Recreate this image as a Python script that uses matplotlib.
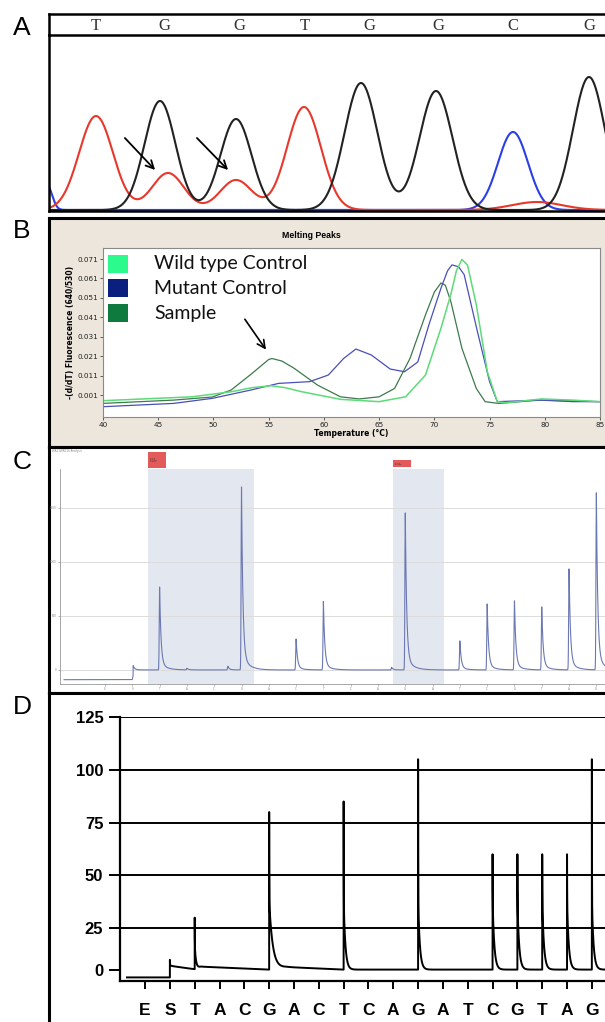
import numpy as np
import matplotlib
matplotlib.use('Agg')
import matplotlib.pyplot as plt
from matplotlib.patches import Rectangle

W, H = 605, 1022

# ---------------- A: Sanger trace ----------------
a_bases = ['T', 'G', 'G', 'T', 'G', 'G', 'C', 'G']
a_base_x = [96, 164, 239, 305, 369, 438, 513, 589]
a_black_x = [160, 236, 361, 436, 589]
a_black_h = [109, 91, 127, 119, 133]
a_black_w = [15.5, 15.5, 16.5, 16.5, 16]
a_red_x = [96, 168, 236, 304, 537]
a_red_h = [94, 37, 30, 103, 8]
a_red_w = [17, 16, 16, 17, 25]
a_blue_x = [47, 513]
a_blue_h = [25, 78]
a_blue_w = [5, 15]

# ---------------- B: melting peaks ----------------
b_wt_t = [40, 48.1, 51.6, 53.5, 55.2, 56.5, 58.0, 61.5, 65.0, 67.4, 69.2, 70.6, 71.5, 72.0,
          72.5, 73.0, 73.8, 74.8, 75.7, 76.5, 79.7, 82.5, 85]
b_wt_v = [-0.0019, 0.0001, 0.0027, 0.0048, 0.0058, 0.0048, 0.0027, -0.0012, -0.0024, 0.0001,
          0.0113, 0.0354, 0.0530, 0.0650, 0.0708, 0.0680, 0.0475, 0.0130, -0.0024, -0.0030,
          -0.0010, -0.0016, -0.0024]
b_mut_t = [40, 46.4, 49.9, 53.4, 55.9, 58.7, 60.4, 61.8, 62.9, 64.3, 66.0, 67.3, 68.5, 69.5,
           70.6, 71.2, 71.6, 72.2, 72.7, 73.9, 75.0, 75.7, 79.6, 82.5, 85]
b_mut_v = [-0.0050, -0.0033, -0.0007, 0.0036, 0.0070, 0.0079, 0.0113, 0.0199, 0.0247, 0.0216,
           0.0144, 0.0130, 0.0180, 0.0370, 0.0560, 0.0650, 0.0680, 0.0670, 0.0630, 0.0337,
           0.0079, -0.0024, -0.0016, -0.0024, -0.0024]
b_smp_t = [40, 46.4, 49.9, 51.6, 53.4, 55.0, 55.3, 56.2, 57.3, 59.4, 61.5, 63.2, 65.0, 66.4,
           67.8, 69.2, 70.0, 70.6, 71.0, 71.5, 72.5, 73.8, 74.6, 75.8, 79.6, 85]
b_smp_v = [-0.0033, -0.0016, 0.0000, 0.0036, 0.0117, 0.0193, 0.0198, 0.0185, 0.0148, 0.0062,
           0.0001, -0.0010, 0.0001, 0.0044, 0.0199, 0.0423, 0.0540, 0.0587, 0.0575, 0.0490,
           0.0250, 0.0044, -0.0024, -0.0033, -0.0016, -0.0024]
b_legend = ['Wild type Control', 'Mutant Control', 'Sample']
b_yticks = [0.001, 0.011, 0.021, 0.031, 0.041, 0.051, 0.061, 0.071]
b_xticks = [40, 45, 50, 55, 60, 65, 70, 75, 80, 85]

# ---------------- C: pyrosequencing (software view) ----------------
c_disp = list('ESTACGACTCAGATCGTAG')
c_peak_pos = [1.03, 2, 3, 4.5, 5, 7, 8, 10.5, 11, 13, 14, 15, 16, 17, 18]
c_peak_h = [40, 768, 15, 35, 1694, 287, 635, 25, 1454, 269, 611, 639, 583, 935, 1639]
c_pre_level = -90
c_spans = [(1.58, 5.46), (10.55, 12.42)]
c_box_text = ['A: 1%\nC: 1%\nG: 45 %\nT: 53%', 'A: 1%\nG: 99%']
c_yticks = [0, 500, 1000, 1500]

# ---------------- D: pyrogram ----------------
d_disp = list('ESTACGACTCAGATCGTAG')
d_peak_pos = [1, 2, 5, 8, 11, 14, 15, 16, 17, 18]
d_peak_h = [10, 30, 80, 85, 105, 60, 60, 60, 60, 105]
d_shoulder = [7.5, 17, 38, 38, 38, 38, 38, 38, 38, 38]
d_tau = [0.05, 0.05, 0.14, 0.07, 0.07, 0.07, 0.07, 0.07, 0.07, 0.07]
d_base_x = [-0.73, 0.999, 1.0, 1.98, 2.0, 2.25, 5.0, 5.0, 5.7, 8.0, 18.7]
d_base_y = [1.7, 1.7, 7.2, 5.6, 5.6, 6.8, 5.4, 5.4, 6.6, 5.4, 5.4]
d_yticks = [0, 25, 50, 75, 100, 125]


def box(fig, x0, y0, x1, y1):
    return fig.add_axes([x0 / W, 1 - y1 / H, (x1 - x0) / W, (y1 - y0) / H])


def fx(x):
    return x / W


def fy(y):
    return 1 - y / H


fig = plt.figure(figsize=(W / 100, H / 100), dpi=100)
fig.patch.set_facecolor('white')

# panel letters
for lab, y in zip('ABCD', [28, 231, 462, 707]):
    fig.text(fx(22), fy(y), lab, fontsize=19, family='Liberation Sans', ha='center', va='center')

# ---- A ----
axA = box(fig, 49, 35, 608, 211)
xs = np.linspace(40, 610, 1500)


def trace(cx, hh, ww):
    y = np.zeros_like(xs)
    for c, h, w in zip(cx, hh, ww):
        y += h * np.exp(-(xs - c) ** 2 / (2 * w ** 2))
    return y


axA.plot(xs, trace(a_blue_x, a_blue_h, a_blue_w), color='#2b3fe6', lw=1.5)
axA.plot(xs, trace(a_red_x, a_red_h, a_red_w), color='#e8382b', lw=1.5)
axA.plot(xs, trace(a_black_x, a_black_h, a_black_w), color='#222222', lw=1.5)
axA.set_xlim(49, 608)
axA.set_ylim(-1, 175)
axA.set_xticks([])
axA.set_yticks([])
axA.spines['top'].set_visible(False)
axA.spines['right'].set_visible(False)
axA.spines['left'].set_linewidth(1.8)
axA.spines['bottom'].set_linewidth(1.8)
for (x0, y0), (x1, y1) in [((123, 74), (157, 38)), ((195, 74), (230, 38))]:
    axA.annotate('', xy=(x1, y1), xytext=(x0, y0),
                 arrowprops=dict(arrowstyle='->', lw=1.3, color='black', mutation_scale=14))

band = box(fig, 49, 14, 608, 35)
band.patch.set_alpha(0)
band.set_xlim(49, 608)
band.set_ylim(0, 1)
band.set_xticks([])
band.set_yticks([])
for s in ['top', 'left', 'bottom']:
    band.spines[s].set_linewidth(1.8)
band.spines['right'].set_visible(False)
for b, x in zip(a_bases, a_base_x):
    band.text(x, 0.45, b, ha='center', va='center', fontsize=12, color='#333333',
              family='Liberation Serif')

# ---- B ----
frB = box(fig, 49, 218, 608, 447)
frB.set_facecolor('#ece6dc')
frB.set_xticks([])
frB.set_yticks([])
for s in frB.spines.values():
    s.set_linewidth(2.2)
fig.text(fx(311), fy(236), 'Melting Peaks', fontsize=6.3, fontweight='bold', ha='center',
         va='center', family='Liberation Sans')

axB = box(fig, 103, 248, 600, 417)
axB.plot(b_smp_t, b_smp_v, color='#3d7a4c', lw=0.9)
axB.plot(b_mut_t, b_mut_v, color='#4a4fb8', lw=0.9)
axB.plot(b_wt_t, b_wt_v, color='#5cdb78', lw=1.1)
axB.set_xlim(40, 85)
axB.set_ylim(-0.0103, 0.0767)
axB.set_xticks(b_xticks)
axB.set_yticks(b_yticks)
axB.set_yticklabels([f'{v:.3f}' for v in b_yticks])
axB.tick_params(labelsize=5.2, length=2, width=0.5, pad=1.5, colors='#222222')
for s in axB.spines.values():
    s.set_color('#8a8a8a')
    s.set_linewidth(0.8)
axB.set_xlabel('Temperature (°C)', fontsize=5.5, fontweight='bold', labelpad=1)
axB.set_ylabel('-(d/dT) Fluorescence (640/530)', fontsize=5.5, fontweight='bold', labelpad=2)
axB.annotate('', xy=(54.9, 0.0232), xytext=(52.7, 0.0412),
             arrowprops=dict(arrowstyle='->', lw=1.2, color='black', mutation_scale=14))
leg_cols = ['#2dfa8c', '#0b1f7e', '#0f7a3d']
for i, (lab, col) in enumerate(zip(b_legend, leg_cols)):
    yc = 264 + i * 24.5
    fig.patches.append(Rectangle((fx(108), fy(yc + 9)), 20 / W, 18 / H, facecolor=col,
                                 edgecolor='none', transform=fig.transFigure))
    fig.text(fx(154), fy(yc), lab, fontsize=14, family='Lato', va='center', ha='left',
             color='#111111')

# ---- C ----
frC = box(fig, 49, 447, 608, 693)
frC.set_xticks([])
frC.set_yticks([])
for s in frC.spines.values():
    s.set_linewidth(2.2)
fig.text(fx(52), fy(451), 'WA11WR016 Analysis', fontsize=2, color='#888888', va='center')

axC = box(fig, 60, 469, 607, 684)
cx = np.arange(-1.5, 18.4, 0.002)
cy = np.where(cx < 1.03, c_pre_level, 0.0).astype(float)
for p, h in zip(c_peak_pos, c_peak_h):
    d = cx - p
    rise = h * np.exp(-d ** 2 / (2 * 0.014 ** 2))
    dd = np.clip(d, 0, None)
    fall = h * (0.92 * np.exp(-dd / 0.05) + 0.08 * np.exp(-dd / 0.25))
    cy += np.where(d < 0, rise, fall)
axC.plot(cx, cy, color='#6b78b2', lw=0.8)
for a, b in c_spans:
    axC.axvspan(a, b, color='#e3e8f0', lw=0, zorder=0)
for t in c_yticks:
    axC.axhline(t, color='#dcdcdc', lw=0.7, zorder=0.5)
axC.set_xlim(-1.65, 18.39)
axC.set_ylim(-130, 1861)
axC.set_xticks(range(len(c_disp)))
axC.set_xticklabels(c_disp)
axC.set_yticks(c_yticks)
axC.tick_params(labelsize=2, length=1.5, width=0.4, pad=1, colors='#888888')
axC.spines['top'].set_visible(False)
axC.spines['right'].set_visible(False)
for s in ['left', 'bottom']:
    axC.spines[s].set_color('#999999')
    axC.spines[s].set_linewidth(0.6)
for (a, b), txt, (y0, y1) in zip(c_spans, c_box_text, [(452, 468), (460, 467)]):
    x0 = 105 + 27.3 * a
    fig.patches.append(Rectangle((fx(x0), fy(y1)), 18 / W, (y1 - y0) / H, facecolor='#e25a5a',
                                 edgecolor='none', transform=fig.transFigure))
    fig.text(fx(x0 + 1.5), fy((y0 + y1) / 2), txt, fontsize=1.3, va='center', color='#222222',
             linespacing=1.0)

# ---- D ----
frD = box(fig, 49, 693, 608, 1040)
frD.set_xticks([])
frD.set_yticks([])
for s in frD.spines.values():
    s.set_linewidth(2.2)

axD = box(fig, 120, 717, 608, 981)
dx = np.arange(-0.73, 18.7, 0.001)
dy = np.interp(dx, d_base_x, d_base_y)
for p, h, sh, tau in zip(d_peak_pos, d_peak_h, d_shoulder, d_tau):
    b = np.interp(p, d_base_x, d_base_y)
    d = dx - p
    dd = np.clip(d, 0, None)
    dy += np.where(d >= 0, (h - sh) * np.exp(-dd / 0.004) + (sh - b) * np.exp(-dd / tau), 0)
axD.plot(dx, dy, color='black', lw=1.4)
for t in d_yticks[1:]:
    axD.axhline(t, color='black', lw=1.4, zorder=0.5)
axD.set_xlim(-1.01, 18.65)
axD.set_ylim(0, 125)
axD.set_xticks(range(len(d_disp)))
axD.set_xticklabels(d_disp)
# the software puts its "0" label on the signal baseline
axD.set_yticks([5.4] + d_yticks[1:])
axD.set_yticklabels([str(t) for t in d_yticks])
for lab in axD.get_xticklabels() + axD.get_yticklabels():
    lab.set_fontweight('bold')
    lab.set_family('Liberation Sans')
axD.tick_params(axis='y', labelsize=12, length=8, width=1.4, pad=4)
axD.tick_params(axis='x', labelsize=12.5, length=6, width=1.4, pad=10)
axD.spines['top'].set_visible(False)
axD.spines['right'].set_visible(False)
axD.spines['left'].set_linewidth(1.6)
axD.spines['bottom'].set_linewidth(1.6)

fig.savefig('out.png', dpi=100)
